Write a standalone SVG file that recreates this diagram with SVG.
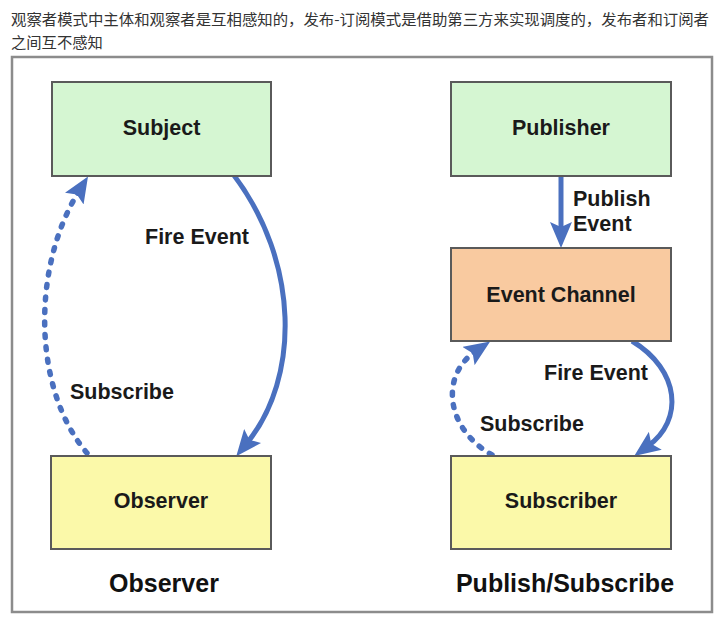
<svg xmlns="http://www.w3.org/2000/svg" width="718" height="619" viewBox="0 0 718 619">
<defs>
<style>
.hdr{font-family:"Noto Sans CJK SC","Liberation Sans",sans-serif;font-size:15.3px;fill:#333}
.box{stroke:#5a5a5a;stroke-width:2}
.lbl{font-family:"Liberation Sans",Arial,sans-serif;font-weight:bold;font-size:21.5px;fill:#1a1a1a}
.big{font-family:"Liberation Sans",Arial,sans-serif;font-weight:bold;font-size:25px;fill:#111}
.solid{fill:none;stroke:#4a70bf;stroke-width:5}
.dash{fill:none;stroke:#4a70bf;stroke-width:5.5;stroke-dasharray:3 9.5;stroke-linecap:round}
</style>
<marker id="ah" viewBox="0 0 26 22" refX="9" refY="11" markerWidth="26" markerHeight="22" markerUnits="userSpaceOnUse" orient="auto">
<path d="M0,0 L26,11 L0,22 L5,11 z" fill="#4a70bf"/>
</marker>
</defs>
<rect width="718" height="619" fill="#fff"/>
<text class="hdr" x="11" y="25" textLength="698" lengthAdjust="spacingAndGlyphs">观察者模式中主体和观察者是互相感知的，发布-订阅模式是借助第三方来实现调度的，发布者和订阅者</text>
<text class="hdr" x="11" y="48">之间互不感知</text>
<rect x="12" y="57" width="700" height="555" fill="#fff" stroke="#8c8c8c" stroke-width="2.5"/>

<g id="connectors">
<path id="c-fire-left" class="solid" d="M233,174 C300,262 300,378 247,443" marker-end="url(#ah)"/>
<path id="c-sub-left" class="dash" d="M87,453 C33,390 31,268 79,191" marker-end="url(#ah)"/>
<path id="c-publish" class="solid" d="M561,176 L561,231" marker-end="url(#ah)"/>
<path id="c-fire-right" class="solid" d="M632,341 C680,370 684,420 648,446" marker-end="url(#ah)"/>
<path id="c-sub-right" class="dash" d="M492,455 C445,428 440,375 476,351" marker-end="url(#ah)"/>
</g>

<g id="labels">
<text class="lbl" x="145" y="244">Fire Event</text>
<text class="lbl" x="70" y="399">Subscribe</text>
<text class="lbl" x="573" y="206">Publish</text>
<text class="lbl" x="573" y="231">Event</text>
<text class="lbl" x="544" y="380">Fire Event</text>
<text class="lbl" x="480" y="431">Subscribe</text>
</g>

<g id="subject">
<rect class="box" x="52" y="82" width="219" height="94" fill="#d5f6d2"/>
<text class="lbl" x="161.5" y="135" text-anchor="middle">Subject</text>
</g>
<g id="observer">
<rect class="box" x="51" y="456" width="220" height="93" fill="#fbf9a9"/>
<text class="lbl" x="161" y="508" text-anchor="middle">Observer</text>
</g>
<g id="publisher">
<rect class="box" x="451" y="82" width="220" height="94" fill="#d5f6d2"/>
<text class="lbl" x="561" y="135" text-anchor="middle">Publisher</text>
</g>
<g id="event-channel">
<rect class="box" x="451" y="248" width="220" height="93" fill="#f9caa0"/>
<text class="lbl" x="561" y="302" text-anchor="middle">Event Channel</text>
</g>
<g id="subscriber">
<rect class="box" x="451" y="456" width="220" height="93" fill="#fbf9a9"/>
<text class="lbl" x="561" y="508" text-anchor="middle">Subscriber</text>
</g>

<g id="titles">
<text class="big" x="164" y="592" text-anchor="middle">Observer</text>
<text class="big" x="565" y="592" text-anchor="middle">Publish/Subscribe</text>
</g>
</svg>
